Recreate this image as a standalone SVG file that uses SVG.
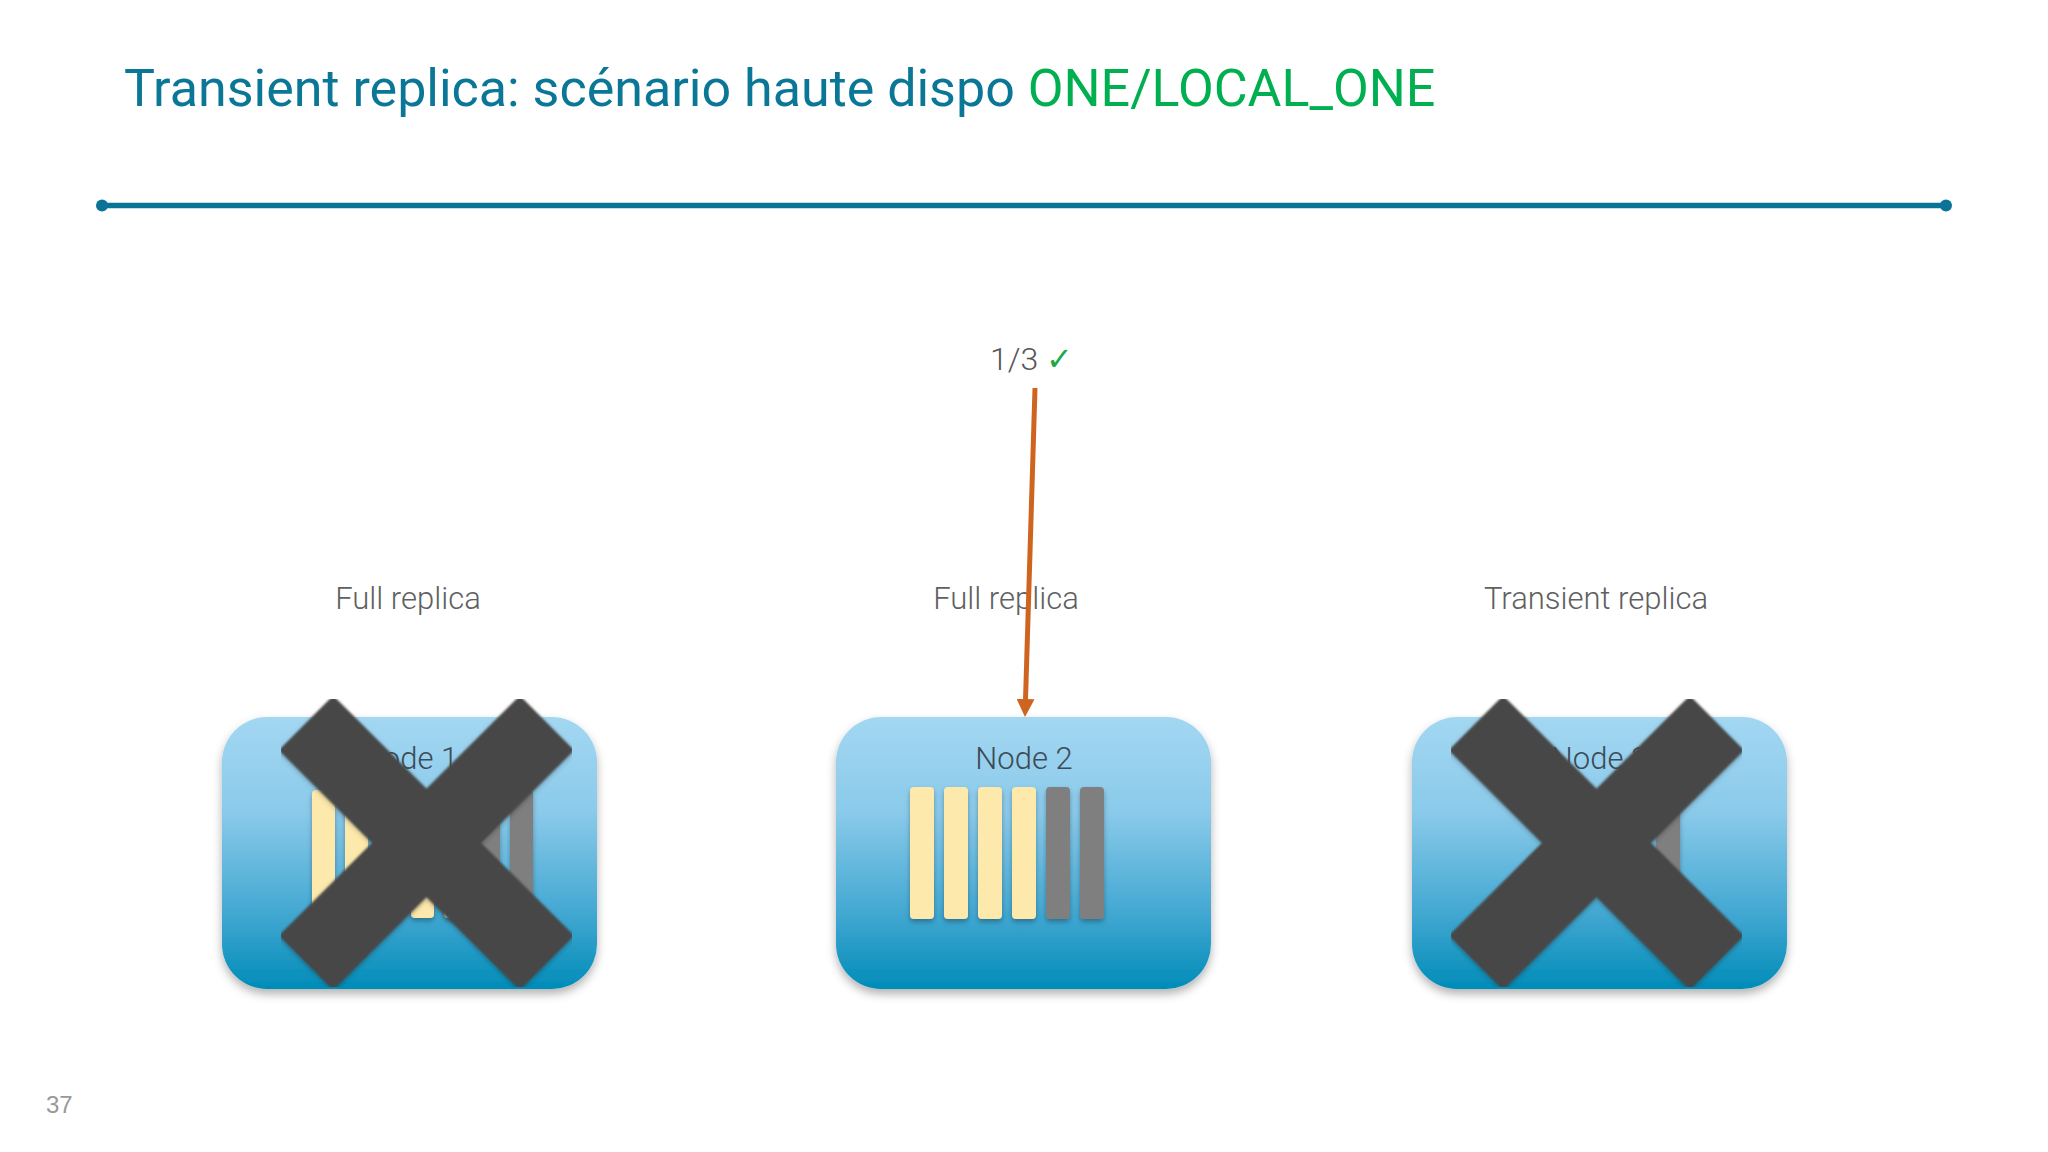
<svg xmlns="http://www.w3.org/2000/svg" width="2048" height="1152" viewBox="0 0 2048 1152">
<defs>
<style>
.title{font-family:Roboto,"Liberation Sans",sans-serif;font-size:52px;fill:#0b7797}
.green{fill:#00b050}
.lbl{font-family:Roboto,"Liberation Sans",sans-serif;font-weight:300;font-size:31px;fill:#606060;text-anchor:middle}
.ntxt{font-family:Roboto,"Liberation Sans",sans-serif;font-weight:300;font-size:31px;fill:#3d4b57;text-anchor:middle}
.box{fill:url(#g);filter:url(#sh)}
.y{fill:#fde9ac;filter:url(#bs)}
.k{fill:#7f7f7f;filter:url(#bs)}
.x{stroke:#474747;stroke-width:77;stroke-linecap:butt;fill:none;filter:url(#xs)}
</style>
<linearGradient id="g" x1="0" y1="0" x2="0" y2="1">
<stop offset="0" stop-color="#a3d7f2"/>
<stop offset="0.35" stop-color="#8acaea"/>
<stop offset="0.72" stop-color="#43a8d2"/>
<stop offset="1" stop-color="#008cb8"/>
</linearGradient>
<filter id="sh" x="-10%" y="-10%" width="120%" height="130%">
<feDropShadow dx="0" dy="5" stdDeviation="5" flood-color="#000" flood-opacity="0.3"/>
</filter>
<filter id="bs" x="-30%" y="-10%" width="160%" height="125%">
<feDropShadow dx="0" dy="3" stdDeviation="2.5" flood-color="#000" flood-opacity="0.3"/>
</filter>
<filter id="xs" x="-10%" y="-10%" width="120%" height="120%">
<feGaussianBlur stdDeviation="1.2" result="b"/>
<feDropShadow in="b" dx="0" dy="2" stdDeviation="2" flood-color="#000" flood-opacity="0.25"/>
</filter>
<marker id="ah" markerUnits="userSpaceOnUse" markerWidth="18" markerHeight="18" viewBox="0 0 18 18" refX="1" refY="9" orient="auto">
<path d="M0,0 L18,9 L0,18 z" fill="#cf6420"/>
</marker>
</defs>
<rect width="2048" height="1152" fill="#ffffff"/>
<g id="header">
<text class="title" x="124" y="106">Transient replica: scénario haute dispo <tspan class="green">ONE/LOCAL_ONE</tspan></text>
<line x1="102" y1="205.5" x2="1946" y2="205.5" stroke="#0b7396" stroke-width="5.5"/>
<circle cx="102" cy="205.5" r="6" fill="#0b7396"/>
<circle cx="1946" cy="205.5" r="6" fill="#0b7396"/>
</g>
<g id="request">
<text x="990" y="370" font-family="Roboto, 'Liberation Sans', sans-serif" font-weight="300" font-size="32" fill="#555555">1/3 <tspan fill="#1aaa4a" font-family="'DejaVu Sans ExtraLight', 'DejaVu Sans', sans-serif" font-weight="200">✓</tspan></text>
</g>
<g id="labels">
<text class="lbl" x="408" y="609">Full replica</text>
<text class="lbl" x="1006" y="609">Full replica</text>
<text class="lbl" x="1596" y="609">Transient replica</text>
</g>
<g id="node1">
<rect class="box" x="222" y="717" width="375" height="272" rx="45"/>
<text class="ntxt" x="409.5" y="769">Node 1</text>
<rect class="y" x="312" y="790" width="23" height="128" rx="4"/>
<rect class="y" x="345" y="790" width="23" height="128" rx="4"/>
<rect class="y" x="378" y="790" width="23" height="128" rx="4"/>
<rect class="y" x="411" y="790" width="23" height="128" rx="4"/>
<rect class="y" x="444" y="790" width="23" height="128" rx="4"/>
<rect class="k" x="477" y="790" width="23" height="128" rx="4"/>
<rect class="k" x="510" y="790" width="23" height="128" rx="4"/>
<path class="x" d="M306,723 L547,963 M547,723 L306,963"/>
</g>
<g id="node2">
<rect class="box" x="836" y="717" width="375" height="272" rx="45"/>
<text class="ntxt" x="1024" y="769">Node 2</text>
<rect class="y" x="910" y="787" width="24" height="132" rx="4"/>
<rect class="y" x="944" y="787" width="24" height="132" rx="4"/>
<rect class="y" x="978" y="787" width="24" height="132" rx="4"/>
<rect class="y" x="1012" y="787" width="24" height="132" rx="4"/>
<rect class="k" x="1046" y="787" width="24" height="132" rx="4"/>
<rect class="k" x="1080" y="787" width="24" height="132" rx="4"/>
</g>
<g id="node3">
<rect class="box" x="1412" y="717" width="375" height="272" rx="45"/>
<text class="ntxt" x="1599.5" y="769">Node 3</text>
<rect class="k" x="1656" y="787" width="24" height="132" rx="4"/>
<path class="x" d="M1476,723 L1717,963 M1717,723 L1476,963"/>
</g>
<g id="connectors">
<line x1="1035" y1="388" x2="1025.5" y2="700" stroke="#cf6420" stroke-width="5" marker-end="url(#ah)"/>
</g>
<text x="46" y="1113" font-family="'Liberation Sans', Arial, sans-serif" font-size="24" fill="#999999">37</text>
</svg>
